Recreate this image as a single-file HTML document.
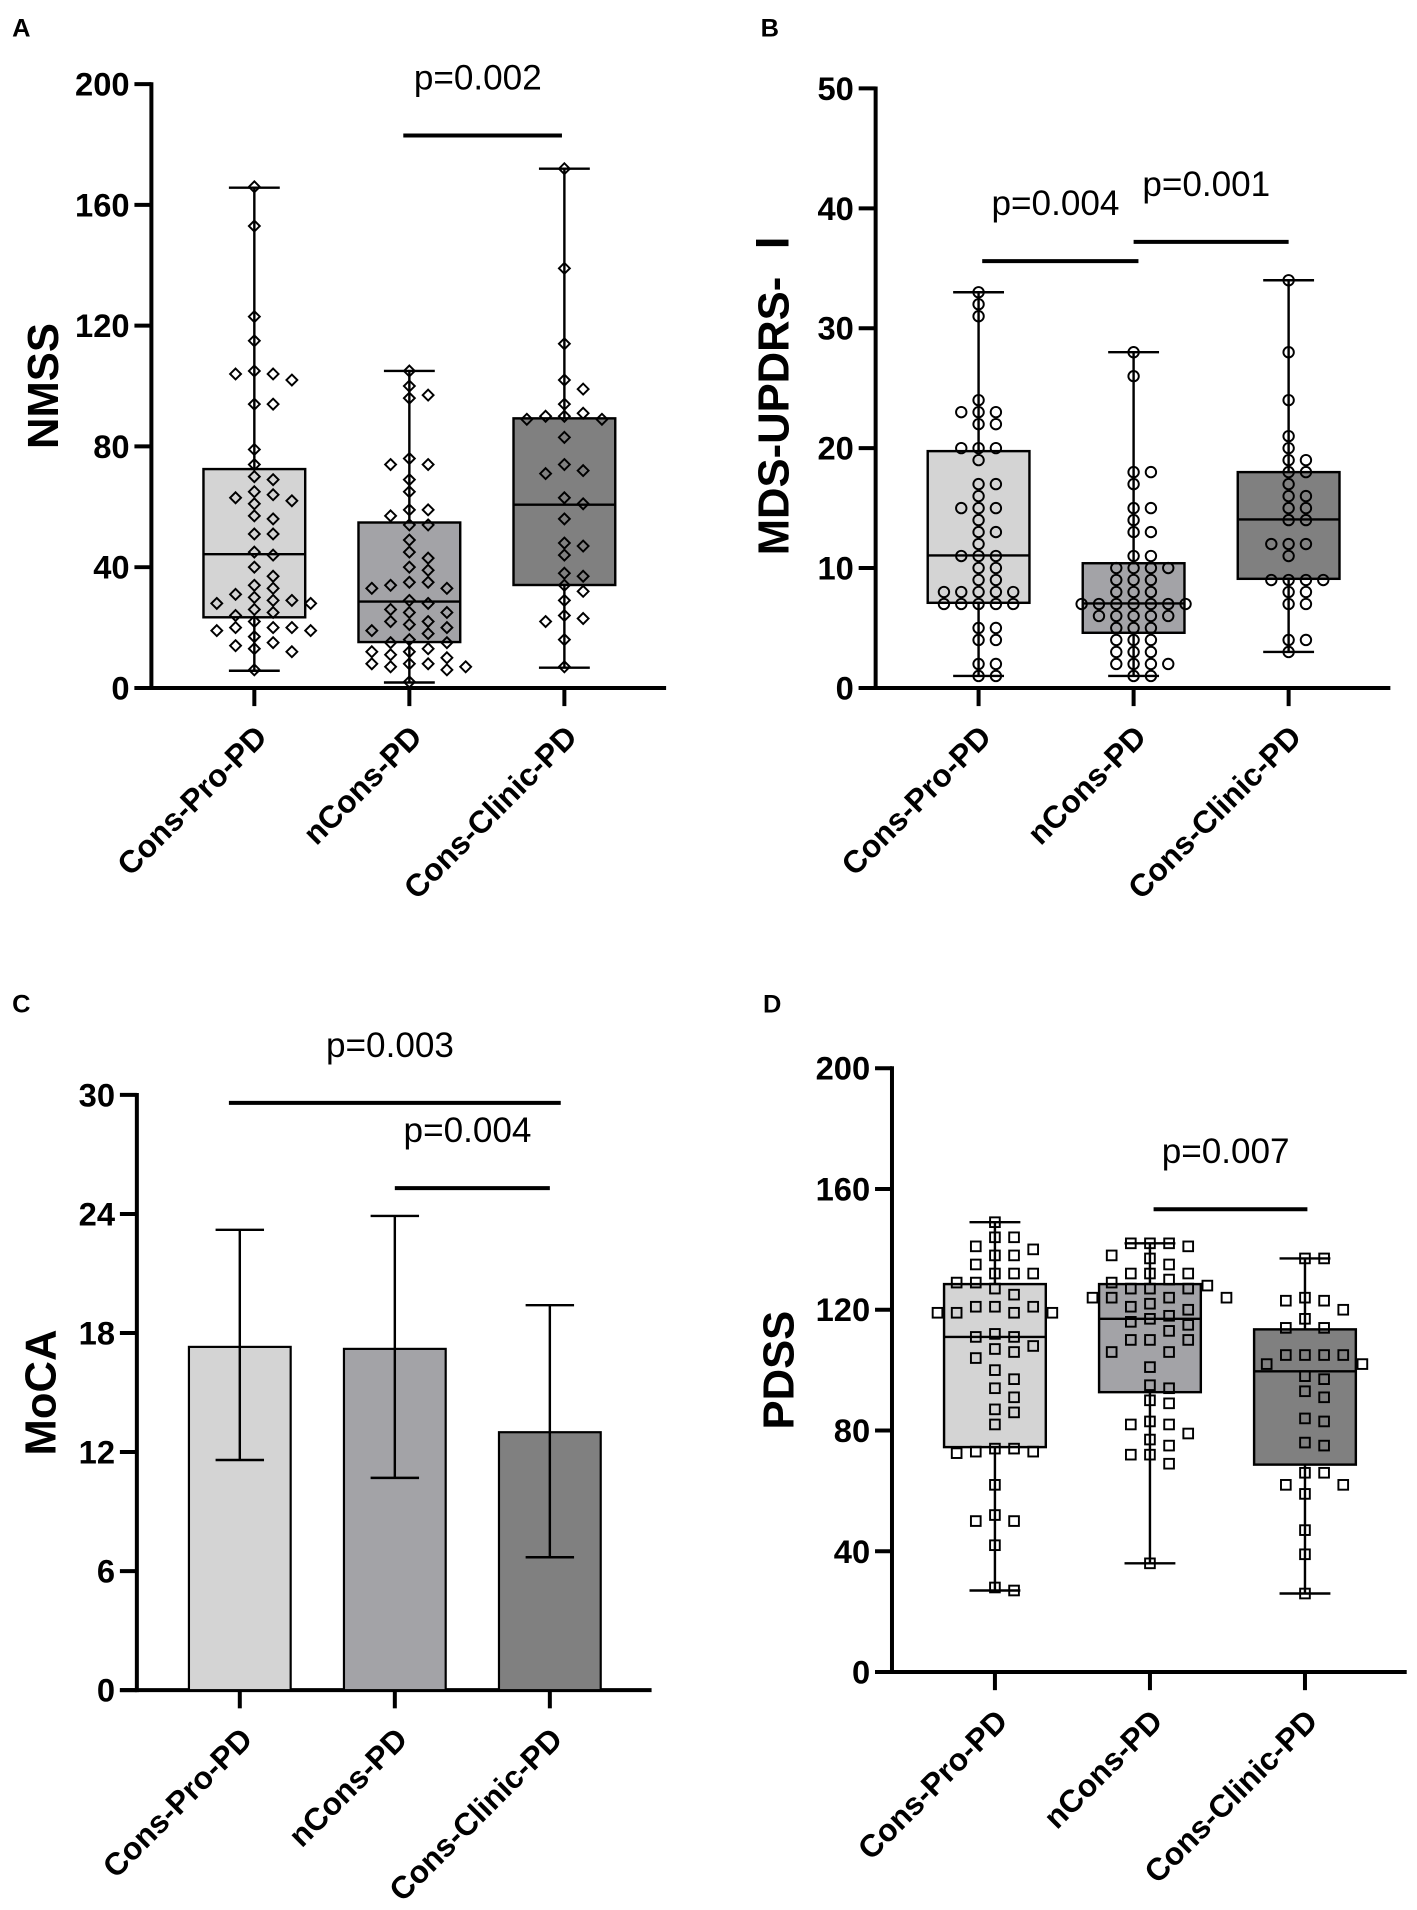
<!DOCTYPE html>
<html><head><meta charset="utf-8"><style>
html,body{margin:0;padding:0;background:#fff;}
svg{display:block;}
text{font-family:"Liberation Sans","Noto Sans CJK SC",sans-serif;}
</style></head><body>
<svg id="fig" xmlns="http://www.w3.org/2000/svg" width="1417" height="1910" viewBox="0 0 1170 1577" preserveAspectRatio="none">
<rect x="0" y="0" width="1170" height="1577" fill="#fff"/>
</svg>
<script>
// ---------- shared ----------
const categories = ['Cons-Pro-PD','nCons-PD','Cons-Clinic-PD'];
const boxColors = ['#d4d4d4','#a3a3a7','#808080'];

// ---------- Panel A: NMSS ----------
const nmssTicks = [0,40,80,120,160,200];
const nmssMin = [5.7,1.8,6.7];
const nmssQ1 = [23.4,15.2,34.1];
const nmssMed = [44.3,28.6,60.7];
const nmssQ3 = [72.5,54.8,89.3];
const nmssMax = [165.7,105,172];
const nmssPro = [166,153,123,115,105,104,104,102,94,94,79,74,70,69,65,64,63,62,61,57,56,51,51,45,44,40,37,34,33,31,30,29,29,28,28,26,25,24,22,20,20,20,19,19,17,15,14,13,12,6];
const nmssNCons = [105,100,97,96,76,74,74,69,65,59,59,57,54,54,49,45,43,40,39,35,35,34,33,33,29,28,26,25,25,22,22,21,20,19,18,16,15,15,13,12,12,11,10,8,8,8,7,7,6,2];
const nmssClinic = [172,139,114,102,99,94,91,90,90,89,89,83,74,72,71,63,61,56,48,47,44,38,37,34,32,29,24,23,22,16,7];
const nmssSigFrom = [1];
const nmssSigTo = [2];
const nmssSigLevel = [183];
const nmssSigLabel = ['p=0.002'];

// ---------- Panel B: MDS-UPDRS-I ----------
const updrsTicks = [0,10,20,30,40,50];
const updrsMin = [1,1,3];
const updrsQ1 = [7.1,4.6,9.1];
const updrsMed = [11.05,7.05,14.05];
const updrsQ3 = [19.75,10.4,18];
const updrsMax = [33,28,34];
const updrsPro = [33,32,31,24,23,23,23,22,22,20,20,20,19,17,17,16,15,15,15,14,13,13,12,11,11,11,10,10,9,9,8,8,8,8,8,7,7,7,7,7,5,5,4,4,2,2,1,1];
const updrsNCons = [28,26,18,18,17,15,15,14,13,13,11,11,10,10,10,10,9,9,9,8,8,8,7,7,7,7,7,7,7,6,6,6,6,6,5,5,5,4,4,4,3,3,3,2,2,2,2,1,1];
const updrsClinic = [34,28,24,21,20,19,19,18,18,17,16,16,15,15,14,14,12,12,12,11,9,9,9,9,8,8,7,7,4,4,3];
const updrsSigFrom = [0,1];
const updrsSigTo = [1,2];
const updrsSigLevel = [35.6,37.2];
const updrsSigLabel = ['p=0.004','p=0.001'];

// ---------- Panel C: MoCA ----------
const mocaTicks = [0,6,12,18,24,30];
const mocaMean = [17.3,17.2,13.0];
const mocaUpper = [23.2,23.9,19.4];
const mocaLower = [11.6,10.7,6.7];
const mocaSigFrom = [0,1];
const mocaSigTo = [2,2];
const mocaSigLevel = [29.6,25.3];
const mocaSigLabel = ['p=0.003','p=0.004'];

// ---------- Panel D: PDSS ----------
const pdssTicks = [0,40,80,120,160,200];
const pdssMin = [27,36,26];
const pdssQ1 = [74.5,92.7,68.7];
const pdssMed = [111,117,99.6];
const pdssQ3 = [128.5,128.5,113.5];
const pdssMax = [149,142,137];
const pdssPro = [149,144,144,141,140,138,138,135,132,132,132,129,129,127,125,121,121,121,119,119,119,119,112,111,111,108,107,106,104,100,97,94,91,87,86,82,74,74,73,73,72.5,62,52,50,50,42,28,27];
const pdssNCons = [142,142,142,141,138,137,135,132,132,132,130,129,128,127,127,127,124,124,124,124,122,121,120,118,117,116,115,113,110,110,110,106,106,101,95,94,90,89,83,82,82,79,77,75,72,72,69,36];
const pdssClinic = [137,137,124,123,123,120,117,114,114,105,105,105,105,102,102,98,97,93,91,84,83,76,75,66,66,62,62,59,47,39,26];
const pdssSigFrom = [1];
const pdssSigTo = [2];
const pdssSigLevel = [153.3];
const pdssSigLabel = ['p=0.007'];

// ---------- drawing helpers ----------
const NS = 'http://www.w3.org/2000/svg';
const svg = document.getElementById('fig');
function mk(tag, attrs, parent){
  const e = document.createElementNS(NS, tag);
  for (const k in attrs) e.setAttribute(k, attrs[k]);
  (parent || svg).appendChild(e);
  return e;
}

function makePanel(letter, letterX, letterY, ax, y0, yTop, vmax, ticks, title, titleX, pname){
  const g = mk('g', {});
  
  
  const ys = v => y0 - v * (y0 - yTop) / vmax;
  const xs = i => ax + 85 + i * 128;
  const lt = mk('text', {x: letterX, y: letterY, 'font-size': 21, 'font-weight': 'bold'}, g);
  lt.textContent = letter;
  
  
  const ya = mk('line', {x1: ax, y1: y0 + 1.6, x2: ax, y2: yTop - 1.6, stroke: '#000', 'stroke-width': 3.3}, g);
  
  
  const xa = mk('line', {x1: ax - 14, y1: y0, x2: ax + 425, y2: y0, stroke: '#000', 'stroke-width': 3.3}, g);
  
  
  ticks.forEach(t => {
    const tl = mk('line', {x1: ax - 14, y1: ys(t), x2: ax, y2: ys(t), stroke: '#000', 'stroke-width': 3.3}, g);
    
    
    const tx = mk('text', {x: ax - 18, y: ys(t) + 9.5, 'font-size': 27, 'font-weight': 'bold', 'text-anchor': 'end'}, g);
    tx.textContent = t;
    
    
  });
  categories.forEach((c, i) => {
    const tl = mk('line', {x1: xs(i), y1: y0, x2: xs(i), y2: y0 + 15, stroke: '#000', 'stroke-width': 3.3}, g);
    
    
    const px = xs(i) + 12, py = y0 + 42;
    const tx = mk('text', {x: px, y: py, 'font-size': 26, 'font-weight': 'bold', 'text-anchor': 'end', transform: 'rotate(-45 ' + px + ' ' + py + ')'}, g);
    tx.textContent = c;
    
    
  });
  const cy = (y0 + yTop) / 2;
  const tt = mk('text', {x: titleX, y: cy, 'font-size': 36, 'font-weight': 'bold', 'text-anchor': 'middle', transform: 'rotate(-90 ' + titleX + ' ' + cy + ') translate(0 13)'}, g);
  tt.textContent = title;
  
  
  return {g, ys, xs};
}

function drawBoxes(P, mins, q1, med, q3, maxs, pts, marker, spacing, thr){
  const bw = 84, cap = 42;
  categories.forEach((c, i) => {
    const x = P.xs(i);
    const bg = mk('g', {}, P.g);
    
    
    mk('line', {x1: x, y1: P.ys(maxs[i]), x2: x, y2: P.ys(mins[i]), stroke: '#000', 'stroke-width': 2}, bg);
    const cp1 = mk('line', {x1: x - cap / 2, y1: P.ys(maxs[i]), x2: x + cap / 2, y2: P.ys(maxs[i]), stroke: '#000', 'stroke-width': 2}, bg);
    
    
    const cp2 = mk('line', {x1: x - cap / 2, y1: P.ys(mins[i]), x2: x + cap / 2, y2: P.ys(mins[i]), stroke: '#000', 'stroke-width': 2}, bg);
    
    
    const r = mk('rect', {x: x - bw / 2, y: P.ys(q3[i]), width: bw, height: P.ys(q1[i]) - P.ys(q3[i]), fill: boxColors[i], stroke: '#000', 'stroke-width': 2}, bg);
    
    
    const m = mk('line', {x1: x - bw / 2, y1: P.ys(med[i]), x2: x + bw / 2, y2: P.ys(med[i]), stroke: '#000', 'stroke-width': 2}, bg);
    
    
    const vals = pts[i].slice().sort((a, b) => b - a);
    const placed = [];
    vals.forEach(v => {
      const y = P.ys(v);
      let px = x;
      const order = [0, 1, -1, 2, -2, 3, -3, 4, -4, 5, -5, 6, -6];
      for (let k = 0; k < order.length; k++) {
        px = x + order[k] * spacing;
        let ok = true;
        for (const p of placed) {
          const dx = p[0] - px, dy = p[1] - y;
          if (Math.sqrt(dx * dx + dy * dy) < spacing * thr) { ok = false; break; }
        }
        if (ok) break;
      }
      placed.push([px, y]);
      let el;
      if (marker === 'diamond') {
        el = mk('path', {d: 'M' + px + ' ' + (y - 4.5) + 'L' + (px + 4.5) + ' ' + y + 'L' + px + ' ' + (y + 4.5) + 'L' + (px - 4.5) + ' ' + y + 'Z', fill: 'none', stroke: '#000', 'stroke-width': 1.6}, bg);
      } else if (marker === 'circle') {
        el = mk('circle', {cx: px, cy: y, r: 4.3, fill: 'none', stroke: '#000', 'stroke-width': 1.6}, bg);
      } else {
        el = mk('rect', {x: px - 4, y: y - 4, width: 8, height: 8, fill: 'none', stroke: '#000', 'stroke-width': 1.6}, bg);
      }
      
      
    });
  });
}

function drawSig(P, from, to, level, label, padL, padR){
  from.forEach((f, j) => {
    const x1 = P.xs(f) + padL[j], x2 = P.xs(to[j]) + padR[j];
    const y = P.ys(level[j]);
    const l = mk('line', {x1: x1, y1: y, x2: x2, y2: y, stroke: '#000', 'stroke-width': 3.3}, P.g);
    
    
    const t = mk('text', {x: (x1 + x2) / 2 - 4, y: y - 38, 'font-size': 29, 'text-anchor': 'middle'}, P.g);
    t.textContent = label[j];
    
    
  });
}

// Panel A
const PA = makePanel('A', 10, 30, 125, 568, 69.5, 200, nmssTicks, 'NMSS', 35, 'panel-a-nmss');
drawBoxes(PA, nmssMin, nmssQ1, nmssMed, nmssQ3, nmssMax, [nmssPro, nmssNCons, nmssClinic], 'diamond', 15.5, 0.62);
drawSig(PA, nmssSigFrom, nmssSigTo, nmssSigLevel, nmssSigLabel, [-5], [-2]);

// Panel B
const PB = makePanel('B', 628, 30, 723, 568, 73, 50, updrsTicks, 'MDS-UPDRS- Ⅰ', 638, 'panel-b-updrs');
drawBoxes(PB, updrsMin, updrsQ1, updrsMed, updrsQ3, updrsMax, [updrsPro, updrsNCons, updrsClinic], 'circle', 14.3, 0.68);
drawSig(PB, updrsSigFrom, updrsSigTo, updrsSigLevel, updrsSigLabel, [3, 0], [4, 0]);

// Panel C
const PC = makePanel('C', 10, 836, 113, 1395.5, 904, 30, mocaTicks, 'MoCA', 33, 'panel-c-moca');
categories.forEach((c, i) => {
  const x = PC.xs(i), bw = 84, cap = 40;
  const r = mk('rect', {x: x - bw / 2, y: PC.ys(mocaMean[i]), width: bw, height: PC.ys(0) - PC.ys(mocaMean[i]), fill: boxColors[i], stroke: '#000', 'stroke-width': 1.8}, PC.g);
  
  
  const e = mk('line', {x1: x, y1: PC.ys(mocaUpper[i]), x2: x, y2: PC.ys(mocaLower[i]), stroke: '#000', 'stroke-width': 2}, PC.g);
  
  
  const c1 = mk('line', {x1: x - cap / 2, y1: PC.ys(mocaUpper[i]), x2: x + cap / 2, y2: PC.ys(mocaUpper[i]), stroke: '#000', 'stroke-width': 2}, PC.g);
  
  
  const c2 = mk('line', {x1: x - cap / 2, y1: PC.ys(mocaLower[i]), x2: x + cap / 2, y2: PC.ys(mocaLower[i]), stroke: '#000', 'stroke-width': 2}, PC.g);
  
  
});
drawSig(PC, mocaSigFrom, mocaSigTo, mocaSigLevel, mocaSigLabel, [-9, 0], [9, 0]);

// Panel D
const PD = makePanel('D', 630, 836, 736.5, 1380.5, 882, 200, pdssTicks, 'PDSS', 642, 'panel-d-pdss');
drawBoxes(PD, pdssMin, pdssQ1, pdssMed, pdssQ3, pdssMax, [pdssPro, pdssNCons, pdssClinic], 'square', 15.8, 0.7);
drawSig(PD, pdssSigFrom, pdssSigTo, pdssSigLevel, pdssSigLabel, [3], [2]);
</script>
</body></html>
